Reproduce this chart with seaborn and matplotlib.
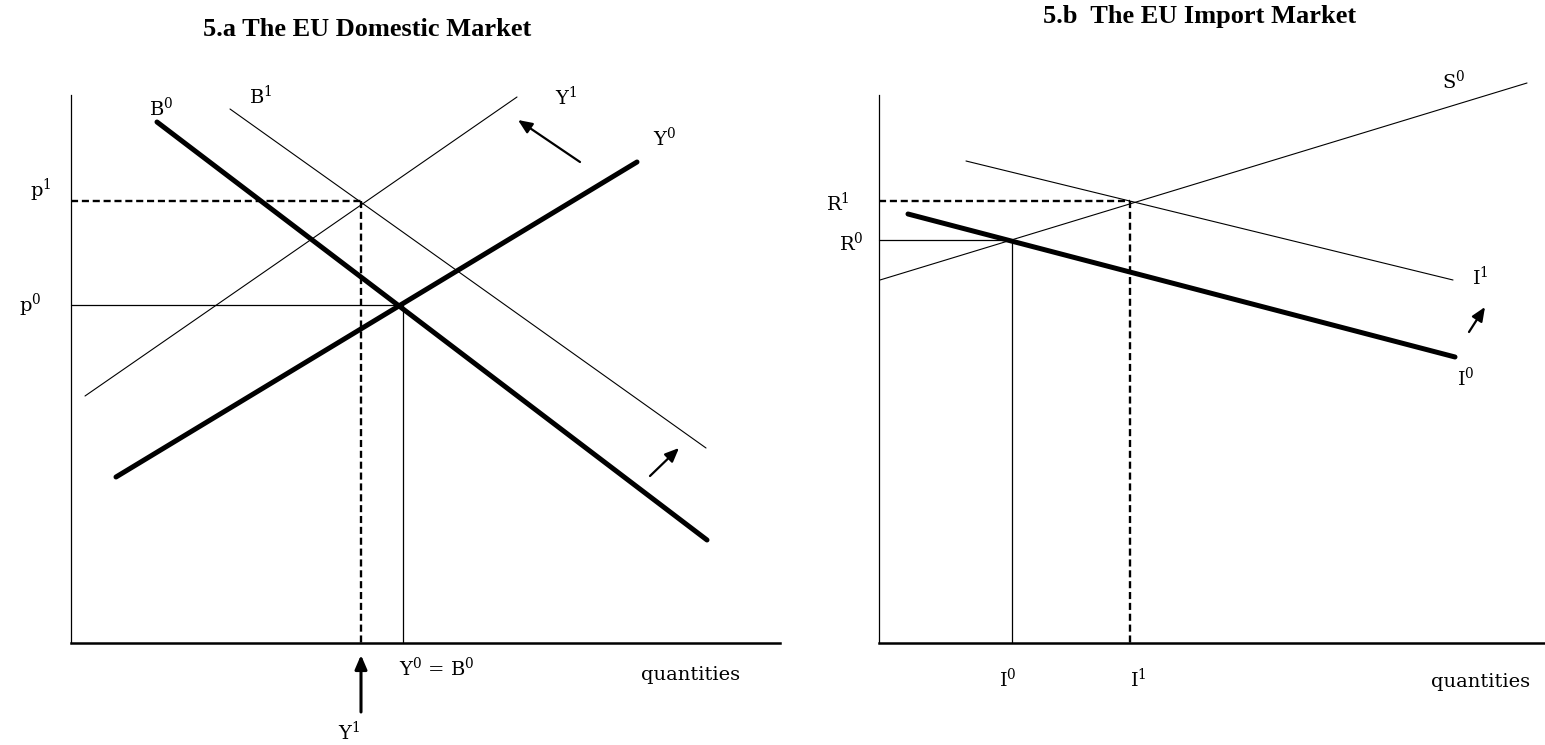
import matplotlib
matplotlib.use('Agg')
import matplotlib.pyplot as plt
import seaborn as sns
import pandas as pd

# curvas (extremos em unidades de quantidade / preço, origem no canto dos eixos)
dom_curves = {
    'B0': ([86, 636], [521, 103]),
    'Y0': ([45, 566], [166, 481]),
    'B1': ([159, 635], [534, 195]),
    'Y1': ([14, 446], [247, 546]),
}
imp_curves = {
    'S0': ([1, 648], [363, 560]),
    'I1': ([87, 574], [482, 363]),
    'I0': ([29, 576], [429, 286]),
}
thick = ['B0', 'Y0', 'I0']

# equilibrios
dom_q0, dom_p0 = 332, 338
dom_q1, dom_p1 = 290, 442
imp_q0, imp_r0 = 133, 403
imp_q1, imp_r1 = 251, 442

sns.set_theme(style='white')
plt.rcParams['font.family'] = ['DejaVu Serif']
plt.rcParams['mathtext.fontset'] = 'dejavuserif'
plt.rcParams['text.color'] = 'black'

fig = plt.figure(figsize=(15.45, 7.45), dpi=100)
ax1 = fig.add_axes([0, 0, 780 / 1545, 1])
ax2 = fig.add_axes([780 / 1545, 0, 765 / 1545, 1])

fs = 14
tfont = dict(fontsize=19, fontweight='bold', family='Liberation Serif', color='black')


def draw_curves(ax, curves):
    for nome, (xs, ys) in curves.items():
        df = pd.DataFrame({'q': xs, 'p': ys})
        lw = 3.6 if nome in thick else 0.8
        sns.lineplot(data=df, x='q', y='p', ax=ax, color='black', linewidth=lw,
                     sort=False, solid_capstyle='round')


def guides(ax, q, p, dashed):
    if dashed:
        kw = dict(color='black', linewidth=1.7, linestyle=(0, (3, 1.6)))
    else:
        kw = dict(color='black', linewidth=0.9)
    ax.plot([0, q], [p, p], **kw)
    ax.plot([q, q], [p, 0], **kw)


def setup(ax, xmax, ytop, xlim):
    ax.set_xlim(*xlim)
    ax.set_ylim(-102, 643)
    for s in ['top', 'right']:
        ax.spines[s].set_visible(False)
    ax.spines['left'].set_position(('data', 0))
    ax.spines['bottom'].set_position(('data', 0))
    ax.spines['left'].set_bounds(0, ytop)
    ax.spines['bottom'].set_bounds(0, xmax)
    ax.spines['left'].set_linewidth(0.9)
    ax.spines['bottom'].set_linewidth(1.8)
    ax.spines['left'].set_color('black')
    ax.spines['bottom'].set_color('black')
    ax.set_xticks([])
    ax.set_yticks([])
    ax.set_xlabel('')
    ax.set_ylabel('')
    ax.patch.set_alpha(0)


def arrow(ax, tail, head, lw=1.6):
    ax.annotate('', xy=head, xytext=tail,
                arrowprops=dict(arrowstyle='-|>,head_length=0.7,head_width=0.3',
                                color='black', lw=lw, shrinkA=0, shrinkB=0))


def lab(ax, x, y, s):
    ax.text(x, y, s, ha='center', va='center', fontsize=fs)


# ---- 5.a
draw_curves(ax1, dom_curves)
guides(ax1, dom_q0, dom_p0, False)
guides(ax1, dom_q1, dom_p1, True)
setup(ax1, 709, 548, (-71, 709))
ax1.text(296, 614, '5.a The EU Domestic Market', ha='center', va='center', **tfont)
lab(ax1, 90, 535, r'B$^0$')
lab(ax1, 190, 547, r'B$^1$')
lab(ax1, 495, 546, r'Y$^1$')
lab(ax1, 594, 505, r'Y$^0$')
lab(ax1, -30, 453, r'p$^1$')
lab(ax1, -41, 338, r'p$^0$')
lab(ax1, 366, -25, r'Y$^0$ = B$^0$')
lab(ax1, 620, -32, 'quantities')
lab(ax1, 278, -89, r'Y$^1$')
arrow(ax1, (dom_q1, -69), (dom_q1, -12), lw=2.2)
arrow(ax1, (509, 481), (447, 523))
arrow(ax1, (579, 167), (608, 195))

# ---- 5.b
draw_curves(ax2, imp_curves)
guides(ax2, imp_q0, imp_r0, False)
guides(ax2, imp_q1, imp_r1, True)
setup(ax2, 666, 548, (-99, 666))
ax2.text(321, 626, '5.b  The EU Import Market', ha='center', va='center', **tfont)
lab(ax2, 575, 562, r'S$^0$')
lab(ax2, -41, 440, r'R$^1$')
lab(ax2, -28, 400, r'R$^0$')
lab(ax2, 601, 366, r'I$^1$')
lab(ax2, 587, 265, r'I$^0$')
lab(ax2, imp_q0 - 4, -36, r'I$^0$')
lab(ax2, imp_q1 + 8, -36, r'I$^1$')
lab(ax2, 602, -39, 'quantities')
arrow(ax2, (590, 311), (606, 336))

fig.savefig('out.png', dpi=100)
